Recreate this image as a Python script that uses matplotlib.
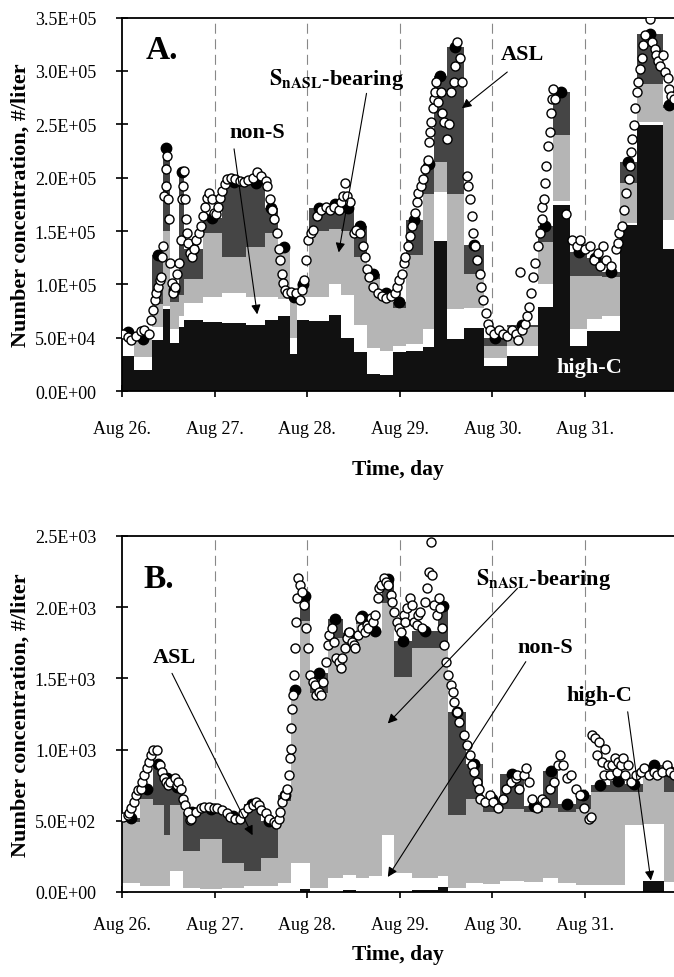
import matplotlib
matplotlib.use('Agg')
import numpy as np
import matplotlib.pyplot as plt
from matplotlib.ticker import FuncFormatter

plt.rcParams['font.family'] = ['Liberation Serif', 'DejaVu Serif']
plt.rcParams['mathtext.fontset'] = 'stix'

# ---- panel A: stacked class bins (thousand #/liter), bin edges in days from Aug 26
edges_a = [0, 0.126, 0.326, 0.443, 0.513, 0.616, 0.672, 0.872, 1.082, 1.339, 1.549, 1.679,
           1.819, 1.889, 2.015, 2.239, 2.365, 2.505, 2.645, 2.785, 2.924, 3.064, 3.251, 3.368,
           3.507, 3.694, 3.904, 4.160, 4.487, 4.650, 4.837, 5.023, 5.187, 5.373, 5.560, 5.84, 5.97]
highc_a = [33, 20, 48, 77, 45, 60, 67, 65, 64, 62, 67, 70, 35, 67, 66, 71, 50, 37, 16, 15,
           37, 38, 41, 141, 49, 59, 24, 33, 79, 174, 42, 56, 56, 156, 249, 133]
nons_a = [22, 12, 12, 3, 13, 10, 16, 23, 28, 26, 21, 16, 15, 21, 22, 29, 40, 25, 24, 23,
          5, 6, 17, 46, 28, 19, 7, 9, 21, 4, 16, 12, 14, 2, 3, 27]
snasl_a = [0, 17, 22, 70, 26, 20, 22, 60, 34, 47, 60, 49, 38, 12, 62, 52, 60, 64, 65, 47,
           36, 84, 127, 28, 108, 32, 11, 18, 40, 62, 50, 40, 37, 37, 36, 105]
asl_a = [0, 0, 46, 78, 11, 115, 28, 14, 70, 60, 24, 0, 0, 0, 22, 23, 22, 29, 5, 7,
         6, 32, 28, 80, 137, 27, 8, 2, 15, 40, 22, 17, 5, 20, 47, 3]

# measured total (open circles): (day, thousand #/liter)
circles_a = [(0.01, 54), (0.06, 51), (0.10, 48), (0.15, 52), (0.20, 56), (0.24, 57), (0.29, 54),
             (0.31, 67), (0.34, 76), (0.36, 85), (0.37, 92), (0.39, 98), (0.41, 104), (0.42, 107),
             (0.43, 126), (0.44, 136), (0.45, 183), (0.47, 192), (0.48, 208), (0.49, 220),
             (0.50, 180), (0.51, 161), (0.52, 120), (0.54, 101), (0.55, 92), (0.57, 98), (0.59, 110),
             (0.62, 120), (0.64, 142), (0.65, 180), (0.66, 192), (0.67, 206), (0.68, 180), (0.69, 161),
             (0.70, 148), (0.71, 139), (0.73, 129), (0.76, 126), (0.78, 133), (0.80, 142), (0.83, 148),
             (0.85, 155), (0.87, 164), (0.90, 173), (0.92, 181), (0.94, 186), (0.97, 180), (0.99, 167),
             (1.01, 166), (1.04, 173), (1.06, 181), (1.08, 188), (1.11, 194), (1.13, 199), (1.18, 200),
             (1.22, 199), (1.27, 197), (1.32, 196), (1.36, 198), (1.41, 200), (1.46, 205), (1.50, 202),
             (1.55, 197), (1.57, 192), (1.60, 180), (1.62, 170), (1.64, 161), (1.67, 148), (1.69, 133),
             (1.71, 123), (1.73, 110), (1.74, 101), (1.76, 95), (1.78, 92), (1.83, 93), (1.88, 92),
             (1.92, 85), (1.94, 95), (1.97, 104), (1.99, 123), (2.01, 142), (2.04, 148), (2.06, 151),
             (2.11, 164), (2.15, 170), (2.20, 173), (2.25, 170), (2.29, 173), (2.34, 170), (2.36, 177),
             (2.39, 183), (2.41, 195), (2.43, 183), (2.46, 177), (2.50, 148), (2.53, 151), (2.57, 148),
             (2.60, 136), (2.62, 126), (2.64, 114), (2.67, 107), (2.71, 98), (2.76, 92), (2.81, 89),
             (2.85, 87), (2.90, 89), (2.95, 92), (2.97, 98), (2.99, 104), (3.02, 110), (3.04, 120),
             (3.06, 126), (3.09, 136), (3.11, 145), (3.13, 155), (3.16, 167), (3.18, 177), (3.20, 186),
             (3.23, 192), (3.25, 199), (3.27, 208), (3.30, 217), (3.32, 233), (3.33, 243), (3.34, 252),
             (3.36, 265), (3.37, 274), (3.38, 280), (3.39, 290), (3.41, 271), (3.44, 280), (3.46, 261),
             (3.48, 252), (3.51, 236), (3.53, 250), (3.55, 280), (3.58, 290), (3.60, 305), (3.62, 327),
             (3.65, 312), (3.67, 290), (3.72, 202), (3.74, 192), (3.76, 180), (3.78, 164), (3.79, 148),
             (3.81, 136), (3.83, 123), (3.86, 110), (3.88, 98), (3.90, 85), (3.93, 73), (3.95, 63),
             (3.97, 57), (4.02, 54), (4.07, 57), (4.11, 54), (4.16, 52), (4.21, 57), (4.25, 54),
             (4.28, 48), (4.30, 112), (4.32, 57), (4.35, 63), (4.37, 70), (4.39, 79), (4.42, 92),
             (4.44, 107), (4.46, 120), (4.49, 136), (4.51, 148), (4.53, 161), (4.54, 173), (4.56, 180),
             (4.57, 195), (4.58, 211), (4.60, 230), (4.62, 243), (4.63, 261), (4.64, 274), (4.65, 283),
             (4.67, 274), (4.79, 166), (4.86, 142), (4.91, 136), (4.95, 142), (5.00, 133), (5.05, 136),
             (5.10, 123), (5.14, 129), (5.16, 117), (5.19, 136), (5.23, 123), (5.28, 117), (5.33, 133),
             (5.35, 139), (5.37, 148), (5.40, 155), (5.42, 170), (5.44, 186), (5.47, 199), (5.49, 211),
             (5.50, 224), (5.51, 236), (5.53, 249), (5.54, 265), (5.56, 280), (5.57, 290), (5.59, 302),
             (5.61, 312), (5.63, 324), (5.65, 334), (5.70, 349), (5.72, 327), (5.75, 321), (5.77, 315),
             (5.79, 309), (5.81, 305), (5.84, 315), (5.86, 299), (5.89, 293), (5.91, 283), (5.93, 277),
             (5.96, 274)]

# ---- panel B (#/liter)
edges_b = [0, 0.196, 0.335, 0.452, 0.521, 0.661, 0.847, 1.080, 1.313, 1.499, 1.685, 1.825,
           1.918, 2.034, 2.221, 2.384, 2.523, 2.663, 2.803, 2.942, 3.128, 3.408, 3.524, 3.710,
           3.897, 4.083, 4.339, 4.548, 4.711, 4.898, 5.061, 5.270, 5.433, 5.629, 5.852, 5.97]
highc_b = [0, 0, 0, 0, 0, 0, 0, 0, 0, 0, 0, 0, 20, 0, 0, 10, 0, 0, 0, 0, 15, 35, 0, 0,
           0, 0, 0, 0, 0, 0, 0, 0, 0, 75, 0]
nons_b = [60, 40, 40, 40, 150, 30, 20, 25, 40, 40, 60, 200, 180, 30, 100, 110, 100, 110,
          400, 130, 85, 75, 30, 60, 55, 75, 70, 100, 60, 50, 50, 50, 470, 405, 70]
snasl_b = [430, 610, 570, 360, 460, 260, 350, 175, 110, 200, 580, 1200, 1700, 1370, 1680,
           1670, 1780, 1720, 1630, 1380, 1610, 1600, 510, 590, 505, 505, 490, 490, 500, 530,
           650, 650, 230, 370, 630]
asl_b = [30, 70, 290, 400, 130, 270, 210, 330, 470, 260, 40, 20, 180, 140, 140, 30, 60, 0,
         170, 250, 120, 300, 720, 250, 90, 250, 40, 260, 60, 100, 50, 80, 60, 40, 150]

circles_b = [(0.01, 527), (0.06, 539), (0.08, 551), (0.10, 586), (0.13, 633), (0.15, 680), (0.17, 715),
             (0.20, 726), (0.22, 773), (0.24, 820), (0.27, 867), (0.29, 914), (0.31, 961), (0.34, 996),
             (0.38, 1000), (0.41, 890), (0.43, 843), (0.45, 797), (0.47, 773), (0.50, 750), (0.52, 773),
             (0.57, 797), (0.59, 750), (0.61, 773), (0.64, 726), (0.66, 656), (0.68, 609), (0.71, 562),
             (0.73, 504), (0.75, 515), (0.80, 562), (0.85, 586), (0.89, 597), (0.94, 597), (0.99, 586),
             (1.03, 586), (1.08, 574), (1.13, 551), (1.17, 527), (1.22, 515), (1.27, 515), (1.31, 551),
             (1.36, 586), (1.41, 609), (1.45, 633), (1.48, 609), (1.50, 574), (1.55, 551), (1.59, 515),
             (1.64, 492), (1.66, 480), (1.69, 515), (1.71, 562), (1.73, 633), (1.76, 680), (1.78, 726),
             (1.80, 820), (1.815, 937), (1.82, 1007), (1.83, 1148), (1.84, 1288), (1.85, 1382),
             (1.86, 1523), (1.87, 1710), (1.88, 1898), (1.89, 2062), (1.90, 2202), (1.92, 2155),
             (1.94, 2108), (1.96, 2015), (1.99, 1851), (2.01, 1710), (2.03, 1523), (2.06, 1476),
             (2.08, 1453), (2.10, 1382), (2.13, 1406), (2.15, 1382), (2.17, 1476), (2.20, 1617),
             (2.22, 1734), (2.24, 1804), (2.27, 1851), (2.29, 1757), (2.31, 1640), (2.34, 1617),
             (2.36, 1570), (2.38, 1640), (2.41, 1710), (2.43, 1781), (2.45, 1827), (2.48, 1757),
             (2.50, 1734), (2.52, 1710), (2.55, 1804), (2.57, 1921), (2.59, 1851), (2.62, 1827),
             (2.64, 1874), (2.66, 1851), (2.69, 1921), (2.71, 1898), (2.73, 1945), (2.76, 2062),
             (2.78, 2132), (2.80, 2155), (2.83, 2202), (2.85, 2179), (2.87, 2155), (2.90, 2085),
             (2.92, 2038), (2.94, 1968), (2.97, 1898), (2.99, 1851), (3.01, 1827), (3.04, 1945),
             (3.06, 1898), (3.08, 1992), (3.11, 2062), (3.13, 2015), (3.15, 1898), (3.18, 1874),
             (3.20, 1945), (3.22, 1968), (3.24, 1851), (3.27, 2038), (3.29, 2132), (3.31, 2249),
             (3.34, 2460), (3.35, 2226), (3.37, 2015), (3.40, 1945), (3.42, 2062), (3.43, 1992),
             (3.45, 1851), (3.48, 1734), (3.50, 1617), (3.52, 1523), (3.55, 1453), (3.57, 1406),
             (3.59, 1336), (3.62, 1265), (3.64, 1195), (3.69, 1101), (3.73, 1031), (3.76, 961),
             (3.78, 890), (3.80, 843), (3.83, 773), (3.85, 726), (3.87, 656), (3.92, 633), (3.97, 680),
             (4.01, 633), (4.06, 586), (4.11, 656), (4.15, 726), (4.20, 773), (4.25, 797), (4.27, 820),
             (4.29, 726), (4.34, 820), (4.36, 867), (4.39, 773), (4.43, 656), (4.48, 586), (4.53, 656),
             (4.57, 633), (4.62, 726), (4.66, 773), (4.71, 890), (4.73, 961), (4.76, 890), (4.80, 797),
             (4.85, 820), (4.90, 726), (4.94, 680), (4.99, 586), (5.04, 515), (5.06, 527), (5.08, 1101),
             (5.11, 1078), (5.13, 961), (5.15, 1054), (5.18, 914), (5.20, 820), (5.22, 1007),
             (5.25, 890), (5.27, 820), (5.29, 890), (5.32, 937), (5.34, 843), (5.36, 914), (5.39, 890),
             (5.41, 937), (5.43, 820), (5.46, 890), (5.50, 773), (5.55, 820), (5.60, 843), (5.64, 867),
             (5.69, 820), (5.74, 843), (5.78, 820), (5.83, 843), (5.88, 890), (5.92, 843), (5.96, 820)]

day_labels = ['Aug 26.', 'Aug 27.', 'Aug 28.', 'Aug 29.', 'Aug 30.', 'Aug 31.']
colors = ['#111111', '#ffffff', '#b5b5b5', '#454545']


def panel(ax, edges, layers, circles, scale, ymax, ystep, xpad, xlabelpad):
    edges = np.array(edges)
    w = np.diff(edges)
    bottom = np.zeros(len(w))
    for vals, c in zip(layers, colors):
        v = np.array(vals) * scale
        ax.bar(edges[:-1], v, width=w, bottom=bottom, align='edge', color=c, linewidth=0, zorder=2)
        bottom = bottom + v
    for d in range(1, 6):
        ax.axvline(d, color='#888888', lw=0.8, ls=(0, (9, 5)), zorder=1)
    t, n = np.array(circles).T
    ax.plot(edges[:-1] + w / 2, bottom, 'o', ms=7.5, mfc='k', mec='k', zorder=3)
    ax.plot(t, n * scale, 'o', ms=6.5, mfc='white', mec='k', mew=1.0, zorder=4)
    ax.set_xlim(0, 5.96)
    ax.set_ylim(0, ymax)
    ax.set_yticks(np.arange(0, ymax + ystep / 2, ystep))
    ax.yaxis.set_major_formatter(FuncFormatter(lambda v, p: f'{v:.1E}'))
    ax.set_xticks(range(6))
    ax.set_xticklabels(day_labels)
    ax.tick_params(direction='inout', length=9, width=1.2, labelsize=13)
    ax.tick_params(axis='x', pad=xpad)
    ax.tick_params(axis='y', pad=14)
    ax.spines['right'].set_visible(False)
    for s in ['left', 'top', 'bottom']:
        ax.spines[s].set_linewidth(1.3)
    ax.set_xlabel('Time, day', fontsize=15.5, fontweight='bold', labelpad=xlabelpad)
    ax.set_ylabel('Number concentration, #/liter', fontsize=16, fontweight='bold', labelpad=3)


fig = plt.figure(figsize=(6.74, 9.78), dpi=100)
axA = fig.add_axes([0.181, 0.599, 0.819, 0.382])
axB = fig.add_axes([0.181, 0.087, 0.819, 0.364])

panel(axA, edges_a, [highc_a, nons_a, snasl_a, asl_a], circles_a, 1e3, 3.5e5, 5e4, 16, 16)
panel(axB, edges_b, [highc_b, nons_b, snasl_b, asl_b], circles_b, 1, 2.5e3, 500, 13, 8)

arrow = dict(arrowstyle='-|>', color='k', lw=0.8, mutation_scale=14, shrinkA=0, shrinkB=0)
tk = dict(fontsize=16, fontweight='bold', ha='center', va='center', zorder=6)

axA.text(0.43, 3.2e5, 'A.', fontsize=24, fontweight='bold', ha='center', va='center')
axA.text(1.46, 2.43e5, 'non-S', **tk)
axA.annotate('', xy=(1.46, 0.72e5), xytext=(1.21, 2.27e5), arrowprops=arrow, zorder=6)
axA.text(2.32, 2.93e5, r'$\mathbf{S_{nASL}}$-bearing', **tk)
axA.annotate('', xy=(2.34, 1.3e5), xytext=(2.64, 2.79e5), arrowprops=arrow, zorder=6)
axA.text(4.32, 3.16e5, 'ASL', **tk)
axA.annotate('', xy=(3.67, 2.65e5), xytext=(4.16, 2.99e5), arrowprops=arrow, zorder=6)
axA.text(5.05, 0.23e5, 'high-C', color='white', **tk)

axB.text(0.40, 2200, 'B.', fontsize=24, fontweight='bold', ha='center', va='center')
axB.text(0.57, 1650, 'ASL', **tk)
axB.annotate('', xy=(1.41, 398), xytext=(0.54, 1535), arrowprops=arrow, zorder=6)
axB.text(4.55, 2200, r'$\mathbf{S_{nASL}}$-bearing', **tk)
axB.annotate('', xy=(2.87, 1183), xytext=(4.27, 2132), arrowprops=arrow, zorder=6)
axB.text(4.57, 1720, 'non-S', **tk)
axB.annotate('', xy=(2.87, 105), xytext=(4.36, 1617), arrowprops=arrow, zorder=6)
axB.text(5.15, 1380, 'high-C', **tk)
axB.annotate('', xy=(5.71, 80), xytext=(5.46, 1265), arrowprops=arrow, zorder=6)

plt.savefig('out.png', dpi=100)
